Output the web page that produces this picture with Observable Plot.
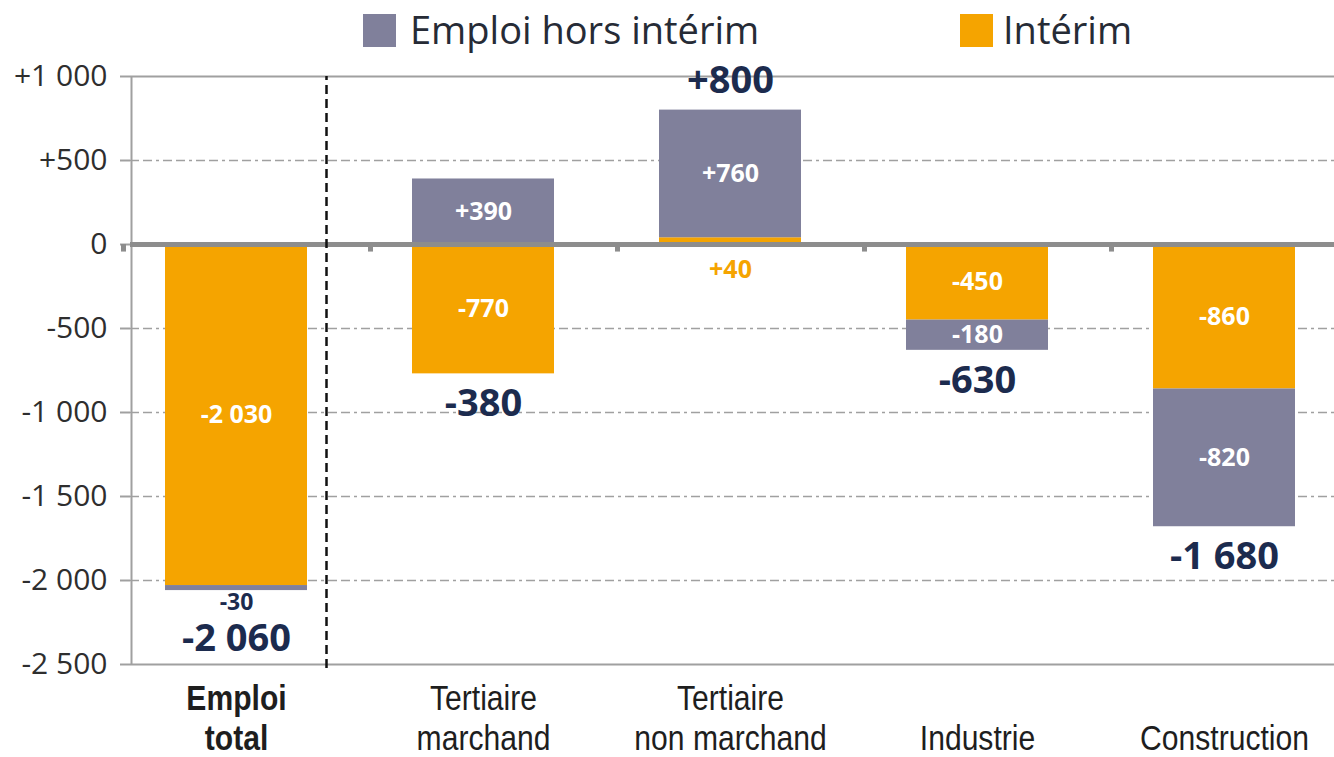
<!DOCTYPE html>
<html><head><meta charset="utf-8">
<script src="https://cdn.jsdelivr.net/npm/d3@7"></script>
<script src="https://cdn.jsdelivr.net/npm/@observablehq/plot@0.6"></script>
<style>
body{margin:0;background:#fff;font-family:"Open Sans",sans-serif;overflow:hidden;}
#legend{position:relative;height:62px;width:1334px;}
.sw{position:absolute;top:14px;width:33px;height:33px;}
.lt{position:absolute;top:4px;font-size:38px;line-height:50px;color:#262b36;}
#chart svg{display:block;}
</style></head><body>
<div id="legend"></div>
<div id="chart"></div>
<script>
// ---- data ----
const categories = ["Emploi total","Tertiaire marchand","Tertiaire non marchand","Industrie","Construction"];
const categoryLabels = ["Emploi\ntotal","Tertiaire\nmarchand","Tertiaire\nnon marchand","Industrie","Construction"];
const seriesNames = ["Intérim","Emploi hors intérim"];
const interim = [-2030,-770,40,-450,-860];
const horsInterim = [-30,390,760,-180,-820];
const totals = [-2060,-380,800,-630,-1680];
const yTicks = [1000,500,0,-500,-1000,-1500,-2000,-2500];
const seriesColors = ["#f5a400","#80809b"];

// ---- styles ----
const GRAY = "#8d8d8d";
const NAVY = "#1c2b4e";
const locale = d3.formatLocale({decimal:",",thousands:"\u00a0",grouping:[3],currency:["",""],minus:"-"});
const fmtSigned = locale.format("+,");
const fmt = v => v === 0 ? "0" : fmtSigned(v);

// legend
const legend = document.getElementById("legend");
[["Emploi hors intérim", seriesColors[1], 363, 410], ["Intérim", seriesColors[0], 960, 1003]].forEach(([t,c,sx,tx]) => {
  const s = document.createElement("div"); s.className="sw"; s.style.left=sx+"px"; s.style.background=c; legend.appendChild(s);
  const l = document.createElement("div"); l.className="lt"; l.style.left=tx+"px"; l.textContent=t; legend.appendChild(l);
});

// rows: intérim first (closest to zero), then hors intérim
const rows = [];
categories.forEach((c,i) => {
  rows.push({cat:c, series:seriesNames[0], value:interim[i]});
  rows.push({cat:c, series:seriesNames[1], value:horsInterim[i]});
});
// segment extents derived from values (same logic as Plot stacking)
const segs = [];
categories.forEach((c,i) => {
  const a = interim[i], b = horsInterim[i];
  const s1 = {cat:c, series:seriesNames[0], value:a, y1:0, y2:a};
  const s2 = (Math.sign(a) === Math.sign(b)) ? {cat:c, series:seriesNames[1], value:b, y1:a, y2:a+b}
                                            : {cat:c, series:seriesNames[1], value:b, y1:0, y2:b};
  segs.push(s1, s2);
});
const inside = segs.filter(d => Math.abs(d.value) >= 100).map(d => ({...d, mid:(d.y1+d.y2)/2}));
const outside = segs.filter(d => Math.abs(d.value) < 100).map(d => ({...d, end: Math.min(d.y1,d.y2)}));
const totalRows = categories.map((c,i) => {
  const ends = segs.filter(d => d.cat === c).flatMap(d => [d.y1,d.y2]);
  const lo = Math.min(...ends);
  const hasSmall = outside.some(d => d.cat === c && d.end <= lo);
  return {cat:c, value:totals[i], y: totals[i] > 0 ? Math.max(...ends) : lo, small: hasSmall};
});

const axisColor = "#a0a0a0";
const labelFont = "'Liberation Sans', Arial, sans-serif";
const chart = Plot.plot({
  width: 1334,
  height: 695,
  marginLeft: 130,
  marginRight: 0,
  marginTop: 14,
  marginBottom: 93,
  style: {fontFamily: "'Open Sans', sans-serif", background: "transparent", overflow: "visible"},
  x: {domain: categories, range: [164, 1296], paddingInner: 0.426, paddingOuter: 0, axis: null},
  y: {domain: [-2500, 1000], axis: null},
  color: {domain: seriesNames, range: seriesColors},
  marks: [
    // grid
    Plot.ruleY(yTicks.filter(v => v !== 0 && v !== 1000 && v !== -2500), {stroke: axisColor, strokeWidth: 1.3, strokeDasharray: "9,4,9,4,3,4"}),
    Plot.ruleY([1000, -2500], {stroke: axisColor, strokeWidth: 2}),
    // y axis
    Plot.axisY({ticks: yTicks, tickFormat: fmt, tickSize: 10, tickPadding: 13, fontSize: 30, stroke: axisColor, color: "#2e2e2e", strokeWidth: 2}),
    Plot.ruleX([categories[0]], {dx: -105, y1: -2500, y2: 1000, stroke: axisColor, strokeWidth: 2}),
    // bars
    Plot.barY(rows, Plot.stackY({x: "cat", y: "value", fill: "series"})),
    // zero line and its ticks
    Plot.ruleY([0], {stroke: GRAY, strokeWidth: 5}),
    Plot.ruleX(categories, {x: d => d, y1: 0, y2: -45, dx: -113, stroke: GRAY, strokeWidth: 5}),
    // separator
    Plot.ruleX([categories[0]], {dx: 90, y1: -2500, y2: 1000, insetTop: 4, stroke: "#111", strokeWidth: 2.5, strokeDasharray: "9,5"}),
    // inside labels
    Plot.text(inside, {x: "cat", y: "mid", text: d => fmt(d.value), fill: "white", fontSize: 25, fontWeight: "bold"}),
    // small outside labels
    Plot.text(outside.filter(d => d.series === seriesNames[1]), {x: "cat", y: "end", text: d => fmt(d.value), dy: 12,
      fill: NAVY, fontSize: 23, fontWeight: "bold"}),
    Plot.text(outside.filter(d => d.series === seriesNames[0]), {x: "cat", y: "end", text: d => fmt(d.value), dy: 25,
      fill: seriesColors[0], fontSize: 25, fontWeight: "bold"}),
    // totals
    Plot.text(totalRows.filter(d => d.value > 0), {x: "cat", y: "y", text: d => fmt(d.value), fill: NAVY, fontSize: 38, fontWeight: "bold", dy: -29}),
    Plot.text(totalRows.filter(d => d.value < 0 && !d.small), {x: "cat", y: "y", text: d => fmt(d.value), fill: NAVY, fontSize: 38, fontWeight: "bold", dy: 30}),
    Plot.text(totalRows.filter(d => d.value < 0 && d.small), {x: "cat", y: "y", text: d => fmt(d.value), fill: NAVY, fontSize: 38, fontWeight: "bold", dy: 48}),
    // category labels
    Plot.text(categories.slice(0,1), {x: d => d, y: () => -2500, text: () => categoryLabels[0], lineAnchor: "bottom", lineHeight: 1.12,
      dy: 85, fontSize: 35, fontFamily: labelFont, fontWeight: "bold", fill: "#1e1e1e"}),
    Plot.text(categories.slice(1), {x: d => d, y: () => -2500, text: (d,i) => categoryLabels[i+1], lineAnchor: "bottom", lineHeight: 1.12,
      dy: 85, fontSize: 35, fontFamily: labelFont, fill: "#1e1e1e"})
  ]
});
// condensed look for category labels (horizontal compression of the rendered text)
d3.select(chart).selectAll("g")
  .filter(function() { return (this.getAttribute("font-family") || "").includes("Liberation"); })
  .selectAll("text")
  .each(function() {
    const t = this.getAttribute("transform") || "";
    this.setAttribute("transform", t + " scale(0.86,1)");
  });
document.getElementById("chart").appendChild(chart);
</script>
</body></html>
